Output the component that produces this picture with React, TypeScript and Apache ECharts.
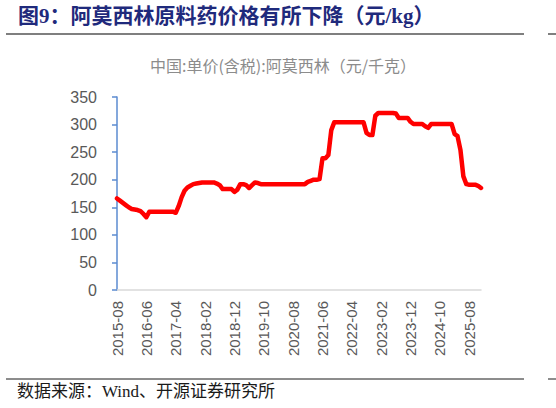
import { useEffect, useRef } from "react";
import * as echarts from "echarts";

const TITLE = "图9：阿莫西林原料药价格有所下降（元/kg）";
const SERIES_NAME = "中国:单价(含税):阿莫西林（元/千克）";
const SOURCE = "数据来源：Wind、开源证券研究所";

// monthly, 2015-08 .. 2025-12
const START_YEAR = 2015;
const START_MONTH = 8;
const PRICE = [
  166, 162, 158, 154, 150, 147, 146, 145, 143, 138,
  132, 142, 142, 142, 142, 142, 142, 142, 142, 142,
  140, 152, 168, 180, 186, 189, 192, 193, 194, 195,
  195, 195, 195, 195, 193, 190, 183, 183, 183, 183,
  178, 182, 192, 192, 190, 185, 190, 195, 194, 192,
  192, 192, 192, 192, 192, 192, 192, 192, 192, 192,
  192, 192, 192, 192, 192, 196, 198, 200, 200, 201,
  239, 239, 245, 290, 304, 304, 304, 304, 304, 304,
  304, 304, 304, 304, 304, 285, 281, 281, 316, 321,
  321, 321, 321, 321, 321, 320, 312, 312, 312, 312,
  305, 301, 301, 301, 301, 297, 294, 301, 301, 301,
  301, 301, 301, 301, 301, 283, 279, 254, 206, 192,
  191, 191, 191, 189, 185,
];

const MONTHS = PRICE.map((_, i) => {
  const m = START_MONTH - 1 + i;
  const y = START_YEAR + Math.floor(m / 12);
  return `${y}-${String((m % 12) + 1).padStart(2, "0")}`;
});

const Y_MIN = 0;
const Y_MAX = 350;
const Y_STEP = 50;

const LABEL_FONT = "'Liberation Sans', 'Open Sans', sans-serif";
const CJK_FONT = "'Liberation Serif', 'Noto Sans CJK SC', serif";

const App = () => {
  const chartRef = useRef<HTMLDivElement>(null);

  useEffect(() => {
    document.body.style.margin = "0";
    if (!chartRef.current) return;
    const chart = echarts.init(chartRef.current, null, { renderer: "svg" });

    chart.setOption({
      animation: false,
      title: {
        text: SERIES_NAME,
        left: 278,
        textAlign: "center",
        top: 52,
        textStyle: {
          fontSize: 16,
          fontWeight: "normal",
          color: "#8c8c8c",
          fontFamily: "'Noto Sans CJK SC', sans-serif",
        },
      },
      grid: { left: 117, right: 75, top: 97, bottom: 118 },
      xAxis: {
        type: "category",
        data: MONTHS,
        boundaryGap: false,
        axisLine: { lineStyle: { color: "#d9d9d9", width: 1.5 } },
        axisTick: { show: false },
        axisLabel: {
          interval: 9,
          rotate: 90,
          color: "#595959",
          fontSize: 15,
          fontFamily: LABEL_FONT,
          margin: 11,
        },
      },
      yAxis: {
        type: "value",
        min: Y_MIN,
        max: Y_MAX,
        interval: Y_STEP,
        axisLine: { show: true, lineStyle: { color: "#5b8bd0", width: 1.5 } },
        axisTick: { show: true, length: 5, lineStyle: { color: "#5b8bd0", width: 1.5 } },
        splitLine: { show: false },
        axisLabel: {
          color: "#595959",
          fontSize: 16,
          fontFamily: LABEL_FONT,
          margin: 20,
        },
      },
      series: [
        {
          name: SERIES_NAME,
          type: "line",
          data: PRICE,
          symbol: "none",
          smooth: false,
          lineStyle: { color: "#ff0000", width: 4.5, join: "round", cap: "round" },
          itemStyle: { color: "#ff0000" },
        },
      ],
      graphic: [
        {
          type: "text",
          left: 18,
          top: 5,
          style: {
            text: TITLE,
            fontSize: 21,
            fontWeight: "bold",
            fill: "#1f2a7c",
            fontFamily: CJK_FONT,
          },
        },
        {
          type: "line",
          shape: { x1: 6, y1: 34, x2: 524, y2: 34 },
          style: { stroke: "#7f7f7f", lineWidth: 2 },
        },
        {
          type: "line",
          shape: { x1: 548, y1: 34, x2: 556, y2: 34 },
          style: { stroke: "#7f7f7f", lineWidth: 2 },
        },
        {
          type: "line",
          shape: { x1: 6, y1: 379, x2: 524, y2: 379 },
          style: { stroke: "#1a1a1a", lineWidth: 1 },
        },
        {
          type: "line",
          shape: { x1: 548, y1: 379, x2: 556, y2: 379 },
          style: { stroke: "#1a1a1a", lineWidth: 1 },
        },
        {
          type: "text",
          left: 17,
          top: 383,
          style: {
            text: SOURCE,
            fontSize: 17,
            fill: "#1a1a1a",
            fontFamily: CJK_FONT,
          },
        },
      ],
    });

    return () => chart.dispose();
  }, []);

  return <div ref={chartRef} style={{ width: 556, height: 408 }} />;
};

export default App;
